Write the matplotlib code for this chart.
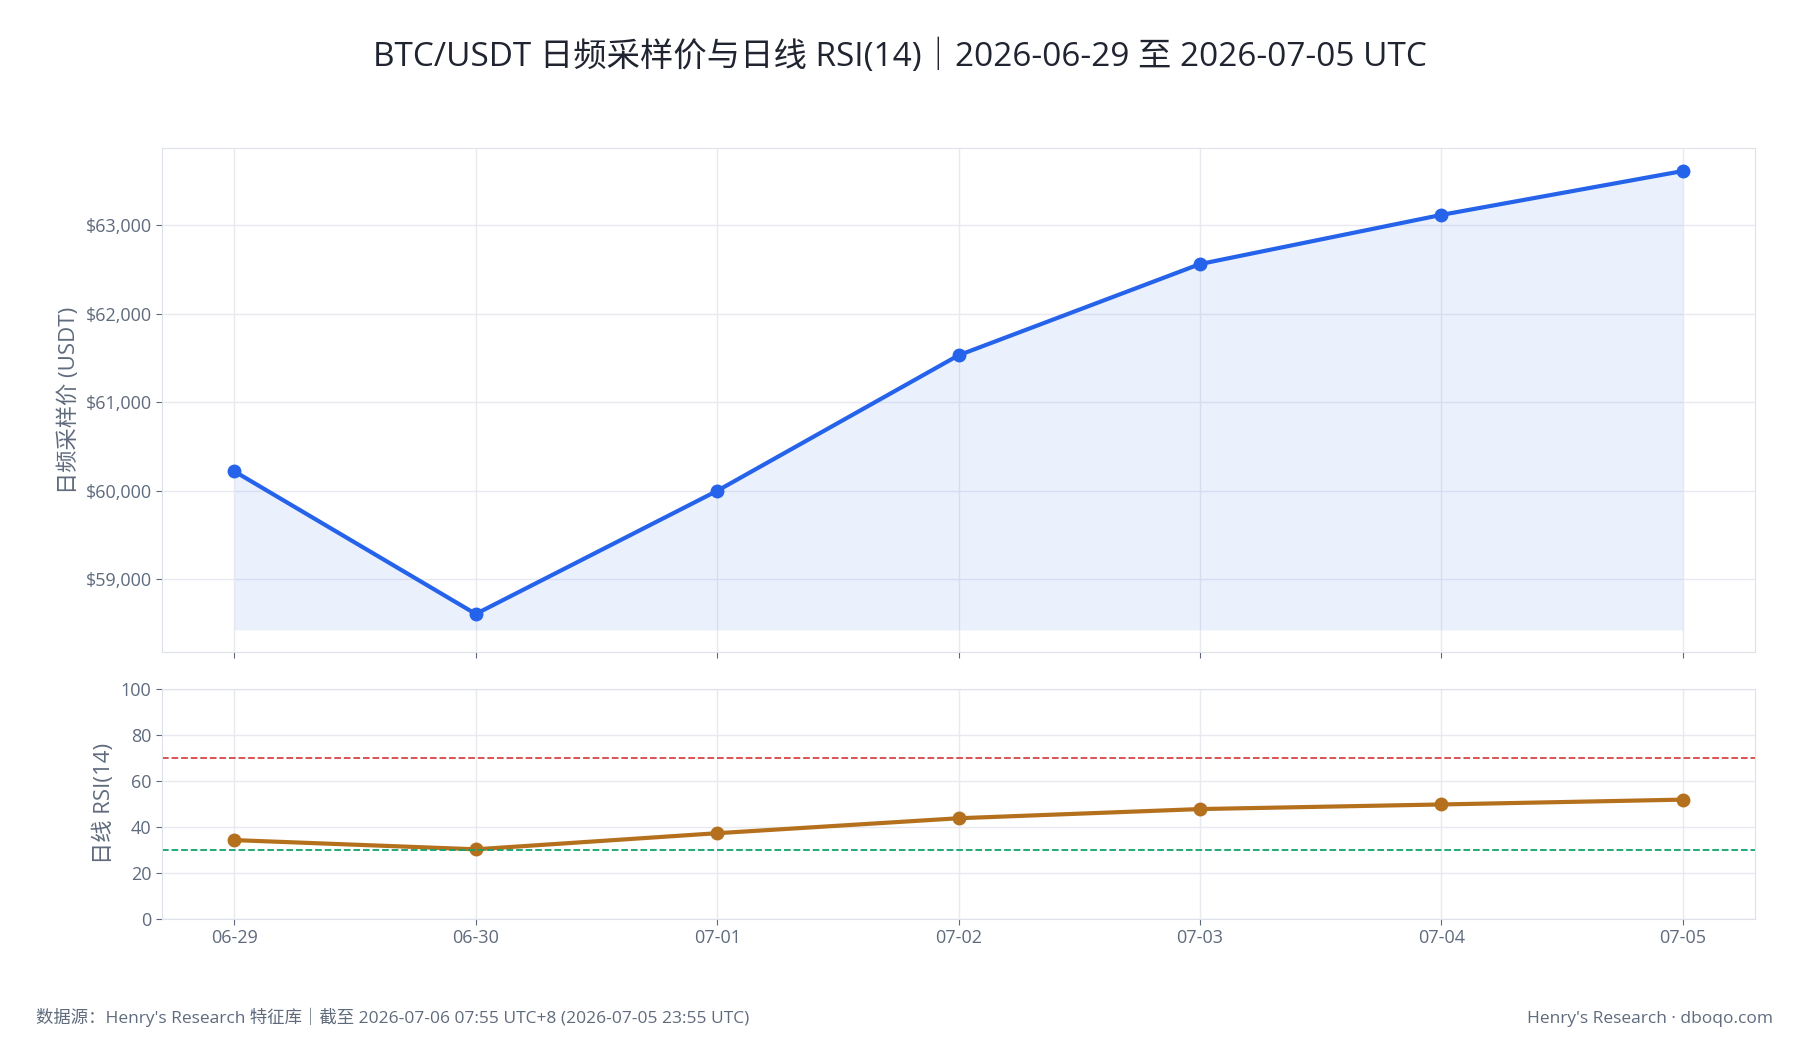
import matplotlib
matplotlib.use("Agg")
import matplotlib.pyplot as plt
from matplotlib.ticker import FuncFormatter

plt.rcParams['font.family'] = ['Open Sans', 'Noto Sans CJK SC', 'DejaVu Sans']

dates = ["06-29", "06-30", "07-01", "07-02", "07-03", "07-04", "07-05"]
price = [60220, 58610, 60000, 61530, 62560, 63115, 63610]
rsi = [34.2, 30.2, 37.2, 43.7, 47.7, 49.7, 51.8]
fill_base = 58430

fig = plt.figure(figsize=(18, 10.5), dpi=100)
ax1 = fig.add_axes([0.090, 0.379, 0.885, 0.480])
ax2 = fig.add_axes([0.090, 0.125, 0.885, 0.219])
x = list(range(len(dates)))
grid_c = "#e8eaf0"
tick_c = "#5f6b7d"

for ax in (ax1, ax2):
    ax.set_xlim(-0.3, 6.3)
    ax.grid(True, color=grid_c, lw=1)
    ax.set_axisbelow(True)
    for s in ax.spines.values():
        s.set_color("#dde1e8")
    ax.tick_params(colors=tick_c, labelsize=13, length=4)
    ax.set_xticks(x)

ax1.fill_between(x, price, fill_base, color="#2563eb", alpha=0.09, lw=0)
ax1.plot(x, price, color="#2563eb", lw=3, marker="o", ms=9)
ax1.set_ylim(58180, 63870)
ax1.set_yticks([59000, 60000, 61000, 62000, 63000])
ax1.yaxis.set_major_formatter(FuncFormatter(lambda v, p: f"${v:,.0f}"))
ax1.set_xticklabels([])
ax1.set_ylabel("日频采样价 (USDT)", color=tick_c, fontsize=16)

ax2.plot(x, rsi, color="#b5701e", lw=3, marker="o", ms=9)
ax2.axhline(70, color="#d64545", ls="--", lw=1.3)
ax2.axhline(30, color="#12a36b", ls="--", lw=1.3)
ax2.set_ylim(0, 100)
ax2.set_yticks(range(0, 101, 20))
ax2.set_xticklabels(dates)
ax2.set_ylabel("日线 RSI(14)", color=tick_c, fontsize=16)

fig.suptitle("BTC/USDT 日频采样价与日线 RSI(14)｜2026-06-29 至 2026-07-05 UTC",
             y=0.962, fontsize=24, color="#1f2430")
fig.text(0.02, 0.026, "数据源：Henry's Research 特征库｜截至 2026-07-06 07:55 UTC+8 (2026-07-05 23:55 UTC)",
         fontsize=12.5, color=tick_c)
fig.text(0.985, 0.026, "Henry's Research · dboqo.com", fontsize=12.5, color=tick_c, ha="right")

fig.savefig("out.png", dpi=100, facecolor="white")
